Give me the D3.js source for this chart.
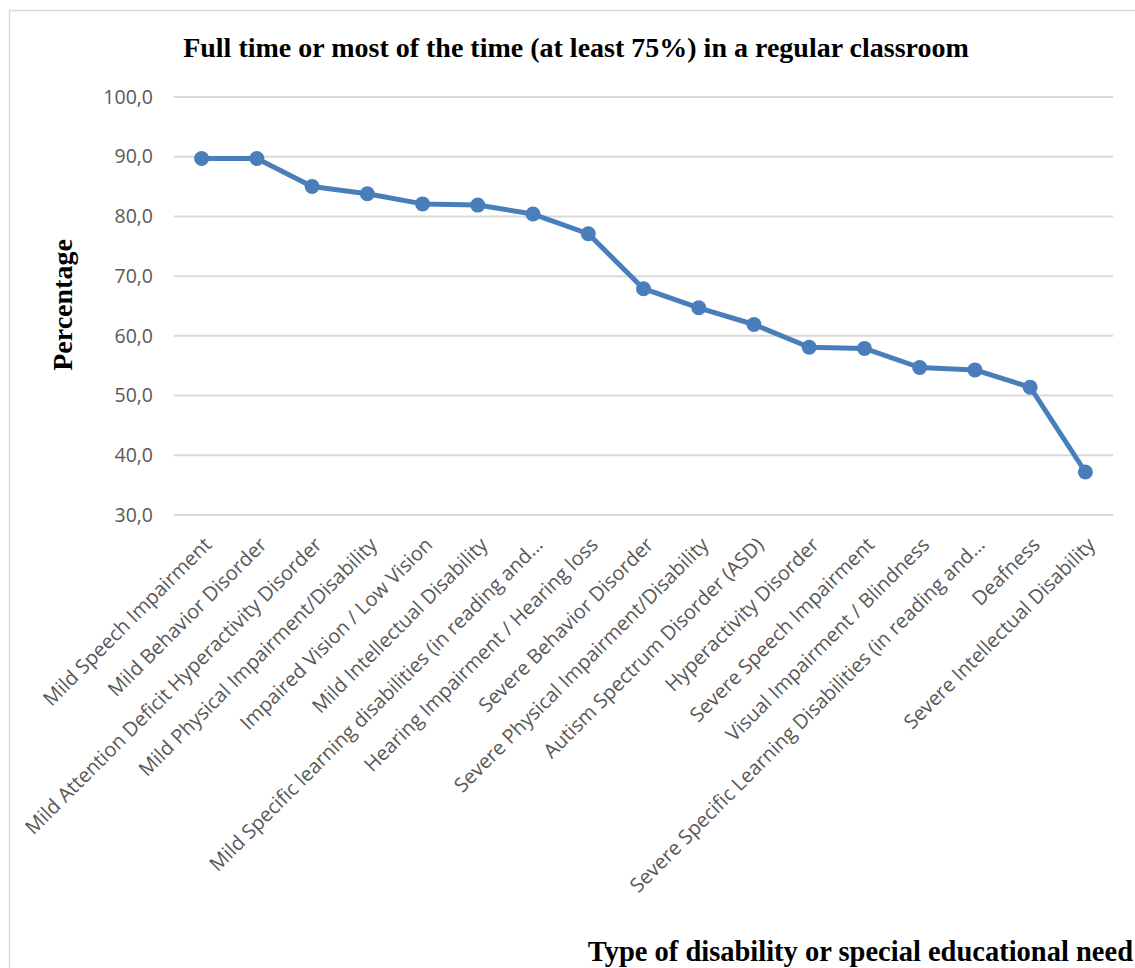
<!DOCTYPE html>
<html>
<head>
<meta charset="utf-8">
<script src="https://cdn.jsdelivr.net/npm/d3@7"></script>
<style>
  html, body { margin: 0; padding: 0; background: #fff; }
  svg { display: block; }
</style>
</head>
<body>
<svg id="chart" width="1135" height="968"></svg>
<script>
// Share of students in a regular classroom full time or at least 75% of the time
const categories = [
  "Mild Speech Impairment",
  "Mild Behavior Disorder",
  "Mild Attention Deficit Hyperactivity Disorder",
  "Mild Physical Impairment/Disability",
  "Impaired Vision / Low Vision",
  "Mild Intellectual Disability",
  "Mild Specific learning disabilities (in reading and…",
  "Hearing Impairment / Hearing loss",
  "Severe Behavior Disorder",
  "Severe Physical Impairment/Disability",
  "Autism Spectrum Disorder (ASD)",
  "Hyperactivity Disorder",
  "Severe Speech Impairment",
  "Visual Impairment / Blindness",
  "Severe Specific Learning Disabilities (in reading and…",
  "Deafness",
  "Severe Intellectual Disability"
];
const percentages = [89.7, 89.7, 85.0, 83.8, 82.1, 81.9, 80.4, 77.1, 67.9, 64.7, 61.9, 58.1, 57.9, 54.7, 54.3, 51.4, 37.2];
const yTicks = [30, 40, 50, 60, 70, 80, 90, 100];

const title = "Full time or most of the time (at least 75%) in a regular classroom";
const yTitle = "Percentage";
const xTitle = "Type of disability or special educational need";

const svg = d3.select("#chart");
const W = 1135, H = 968;
const plot = { left: 174, right: 1113, top: 97, bottom: 515 };
const lineColor = "#4a7ebb";
const serif = "'Liberation Serif', 'DejaVu Serif', serif";
const sans = "'Open Sans', 'Noto Sans', sans-serif";

// chart frame
svg.append("rect")
  .attr("x", 9.5).attr("y", 10.5)
  .attr("width", W + 20).attr("height", H + 20)
  .attr("fill", "none").attr("stroke", "#d9d9d9").attr("stroke-width", 1.5);

const x = d3.scaleBand().domain(categories).range([plot.left, plot.right]);
const y = d3.scaleLinear().domain([30, 100]).range([plot.bottom, plot.top]);

// horizontal gridlines
svg.append("g")
  .selectAll("line")
  .data(yTicks)
  .join("line")
  .attr("x1", plot.left).attr("x2", plot.right)
  .attr("y1", d => y(d)).attr("y2", d => y(d))
  .attr("stroke", "#d9d9d9").attr("stroke-width", 2);

// y axis labels
const yAxis = svg.append("g")
  .attr("transform", `translate(${plot.left - 21},0)`)
  .call(d3.axisLeft(y).tickValues(yTicks).tickSize(0)
    .tickFormat(d => d3.format(".1f")(d).replace(".", ",")));
yAxis.select(".domain").remove();
yAxis.selectAll("text")
  .attr("font-family", sans).attr("font-size", 19.5).attr("fill", "#595959").attr("x", 0);

// x axis category labels, rotated
const xAxis = svg.append("g")
  .attr("transform", `translate(0,${plot.bottom})`)
  .call(d3.axisBottom(x).tickSize(0));
xAxis.select(".domain").remove();
xAxis.selectAll("text")
  .attr("font-family", sans).attr("font-size", 20).attr("fill", "#595959")
  .attr("text-anchor", "end")
  .attr("dy", "0.35em")
  .attr("transform", "translate(4,24) rotate(-45)");

// data line
const line = d3.line()
  .x((d, i) => x(categories[i]) + x.bandwidth() / 2)
  .y(d => y(d));
svg.append("path")
  .datum(percentages)
  .attr("d", line)
  .attr("fill", "none")
  .attr("stroke", lineColor)
  .attr("stroke-width", 5)
  .attr("stroke-linejoin", "round");

svg.append("g")
  .selectAll("circle")
  .data(percentages)
  .join("circle")
  .attr("cx", (d, i) => x(categories[i]) + x.bandwidth() / 2)
  .attr("cy", d => y(d))
  .attr("r", 7.5)
  .attr("fill", lineColor);

// titles
svg.append("text")
  .attr("x", 576).attr("y", 57)
  .attr("text-anchor", "middle")
  .attr("font-family", serif).attr("font-weight", "bold").attr("font-size", 28)
  .attr("fill", "#000")
  .text(title);

svg.append("text")
  .attr("transform", "translate(72,305) rotate(-90)")
  .attr("text-anchor", "middle")
  .attr("font-family", serif).attr("font-weight", "bold").attr("font-size", 28)
  .attr("fill", "#000")
  .text(yTitle);

svg.append("text")
  .attr("x", 1133).attr("y", 961)
  .attr("text-anchor", "end")
  .attr("font-family", serif).attr("font-weight", "bold").attr("font-size", 28.5)
  .attr("fill", "#000")
  .text(xTitle);
</script>
</body>
</html>
